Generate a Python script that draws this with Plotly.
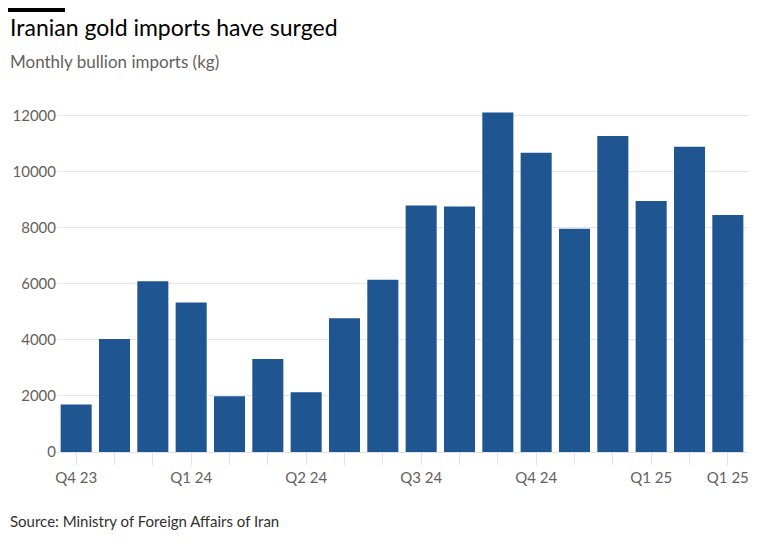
import plotly.graph_objects as go

# monthly bullion imports, Oct 2023 - Mar 2025
months = ["Oct 23", "Nov 23", "Dec 23", "Jan 24", "Feb 24", "Mar 24",
          "Apr 24", "May 24", "Jun 24", "Jul 24", "Aug 24", "Sep 24",
          "Oct 24", "Nov 24", "Dec 24", "Jan 25", "Feb 25", "Mar 25"]
imports_kg = [1690, 4030, 6090, 5330, 1990, 3320,
              2130, 4770, 6140, 8790, 8750, 12100,
              10670, 7960, 11270, 8950, 10880, 8450]
quarter_labels = ["Q4 23", "", "", "Q1 24", "", "", "Q2 24", "", "",
                  "Q3 24", "", "", "Q4 24", "", "", "Q1 25", "", "Q1 25"]
y_ticks = [0, 2000, 4000, 6000, 8000, 10000, 12000]

grey = "#66605c"

# page body adds an 8px margin, so the figure is 8px smaller each way
W, H = 760, 541
L, R, T, B = 49, 21, 99, 97
pw, ph = W - L - R, H - T - B


def px_x(x):
    return (x - L) / pw


def px_y(y):
    return (H - B - y) / ph


fig = go.Figure()
fig.add_trace(go.Bar(x=months, y=imports_kg, marker_color="#1f5590",
                     marker_line_width=0))

fig.update_layout(
    width=W, height=H,
    margin=dict(l=L, r=R, t=T, b=B, autoexpand=False),
    paper_bgcolor="white", plot_bgcolor="white",
    font=dict(family="Lato", color=grey, size=15),
    bargap=0.19,
    showlegend=False,
)
fig.update_xaxes(
    type="category", tickmode="array", tickvals=months, ticktext=quarter_labels,
    ticks="outside", ticklen=12, tickcolor="#e0e3e8", showgrid=False,
    showline=True, linecolor="#dde2ea", linewidth=1, automargin=False,
    tickfont=dict(size=15, color=grey),
)
fig.update_yaxes(
    range=[0, 12300], tickvals=y_ticks, tickformat="d", showgrid=True,
    gridcolor="#e6e6e6", zeroline=False, ticks="", automargin=False,
    tickfont=dict(size=15, color=grey),
)

fig.add_shape(type="rect", xref="paper", yref="paper", x0=px_x(0), x1=px_x(57),
              y0=px_y(4), y1=px_y(0), fillcolor="black", line_width=0)
fig.add_annotation(text="Iranian gold imports have surged", xref="paper", yref="paper",
                   x=px_x(0), y=px_y(19), xanchor="left", yanchor="middle",
                   showarrow=False, font=dict(size=23, color="#000000"))
fig.add_annotation(text="Monthly bullion imports (kg)", xref="paper", yref="paper",
                   x=px_x(0), y=px_y(53), xanchor="left", yanchor="middle",
                   showarrow=False, font=dict(size=17, color=grey))
fig.add_annotation(text="Source: Ministry of Foreign Affairs of Iran", xref="paper", yref="paper",
                   x=px_x(0), y=px_y(513), xanchor="left", yanchor="middle",
                   showarrow=False, font=dict(size=15, color="#33302e"))

fig.write_html("out.html")
